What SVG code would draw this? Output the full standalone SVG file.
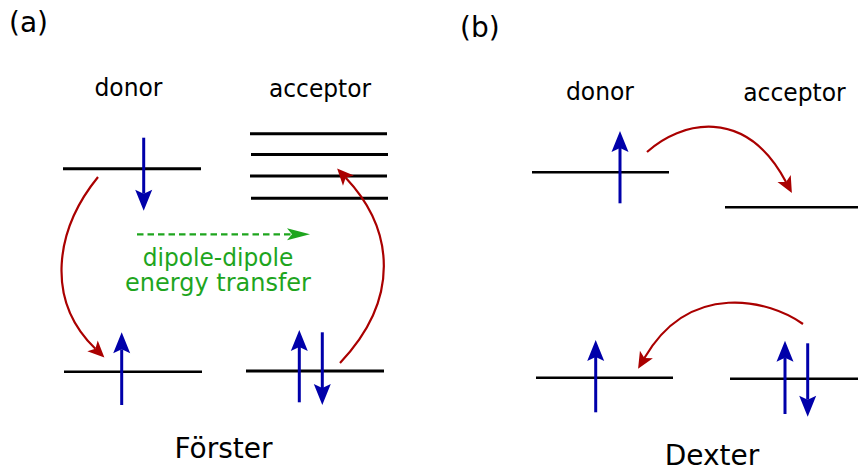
<svg xmlns="http://www.w3.org/2000/svg" width="858" height="468" viewBox="0 0 858 468">
<style>
text{font-family:"DejaVu Sans","Liberation Sans",sans-serif;fill:#000}
.lbl{font-size:24.5px;text-anchor:middle}
.big{font-size:28px}
.lvl{stroke:#000;stroke-width:2.6;fill:none}
.lvlb{stroke:#000;stroke-width:3;fill:none}
.spin{stroke:#0000aa;stroke-width:3;fill:none;marker-end:url(#bh)}
.hop{stroke:#aa0000;stroke-width:2.2;fill:none;marker-end:url(#rh)}
.grn{fill:#1ea51e}
</style>
<defs>
<marker id="bh" markerUnits="userSpaceOnUse" markerWidth="30" markerHeight="30" viewBox="-10 -15 30 30" refX="0" refY="0" orient="auto" overflow="visible">
<path d="M17,0 L-4,-8.5 L0,0 L-4,8.5 Z" fill="#0000aa"/>
</marker>
<marker id="rh" markerUnits="userSpaceOnUse" markerWidth="30" markerHeight="30" viewBox="-10 -15 30 30" refX="0" refY="0" orient="auto" overflow="visible">
<path d="M12.5,0 L-4,-7.5 L0,0 L-4,7.5 Z" fill="#aa0000"/>
</marker>
<marker id="gh" markerUnits="userSpaceOnUse" markerWidth="30" markerHeight="30" viewBox="-10 -15 30 30" refX="0" refY="0" orient="auto" overflow="visible">
<path d="M18,0 L-5,-6 L0,0 L-5,6 Z" fill="#1ea51e"/>
</marker>
</defs>

<text class="big" x="9" y="32">(a)</text>
<text class="big" x="460" y="37">(b)</text>

<g id="forster-donor">
<text class="lbl" x="128.5" y="95.7" textLength="68" lengthAdjust="spacingAndGlyphs">donor</text>
<line class="lvlb" x1="63" y1="168.7" x2="201" y2="168.7"/>
<line class="lvl" x1="64" y1="371.7" x2="202" y2="371.7"/>
<line class="spin" x1="143.7" y1="137.7" x2="143.7" y2="193.7"/>
<line class="spin" x1="121.7" y1="405" x2="121.7" y2="349.3"/>
</g>

<g id="forster-acceptor">
<text class="lbl" x="320" y="96.5" textLength="102" lengthAdjust="spacingAndGlyphs">acceptor</text>
<line class="lvlb" x1="250" y1="133.7" x2="387" y2="133.7"/>
<line class="lvlb" x1="251" y1="154.5" x2="388" y2="154.5"/>
<line class="lvlb" x1="250" y1="176" x2="387" y2="176"/>
<line class="lvlb" x1="251" y1="198.3" x2="388" y2="198.3"/>
<line class="lvlb" x1="246" y1="371" x2="384" y2="371"/>
<line class="spin" x1="299.3" y1="402.3" x2="299.3" y2="347"/>
<line class="spin" x1="322.3" y1="332.3" x2="322.3" y2="388"/>
</g>

<g id="forster-transfer">
<line x1="137" y1="234.3" x2="292" y2="234.3" stroke="#1ea51e" stroke-width="2.2" stroke-dasharray="6.5,4" marker-end="url(#gh)"/>
<text class="lbl grn" x="218" y="266" textLength="150.6" lengthAdjust="spacingAndGlyphs">dipole-dipole</text>
<text class="lbl grn" x="218" y="291" textLength="186" lengthAdjust="spacingAndGlyphs">energy transfer</text>
</g>

<text class="big" x="223.5" y="458" text-anchor="middle">Förster</text>

<g id="dexter-donor">
<text class="lbl" x="600" y="100" textLength="68" lengthAdjust="spacingAndGlyphs">donor</text>
<line class="lvl" x1="532" y1="172.3" x2="669" y2="172.3"/>
<line class="lvl" x1="536" y1="377.7" x2="673" y2="377.7"/>
<line class="spin" x1="620" y1="203.3" x2="620" y2="148"/>
<line class="spin" x1="595.7" y1="412.3" x2="595.7" y2="357"/>
</g>

<g id="dexter-acceptor">
<text class="lbl" x="794.5" y="101" textLength="102.5" lengthAdjust="spacingAndGlyphs">acceptor</text>
<line class="lvl" x1="725" y1="207.3" x2="858" y2="207.3"/>
<line class="lvl" x1="730" y1="378.7" x2="858" y2="378.7"/>
<line class="spin" x1="785" y1="414" x2="785" y2="357.7"/>
<line class="spin" x1="807.7" y1="343.3" x2="807.7" y2="399.7"/>
</g>

<text class="big" x="712" y="465" text-anchor="middle">Dexter</text>

<g id="connectors">
<path class="hop" d="M98,177 C55,230 45,300 95.4,348.7"/>
<path class="hop" d="M340,363 C400,300 395,230 345.7,177.7"/>
<path class="hop" d="M647,152 C680,122 745,105 786,182"/>
<path class="hop" d="M803,324 C770,300 690,280 644.4,358"/>
</g>
</svg>
